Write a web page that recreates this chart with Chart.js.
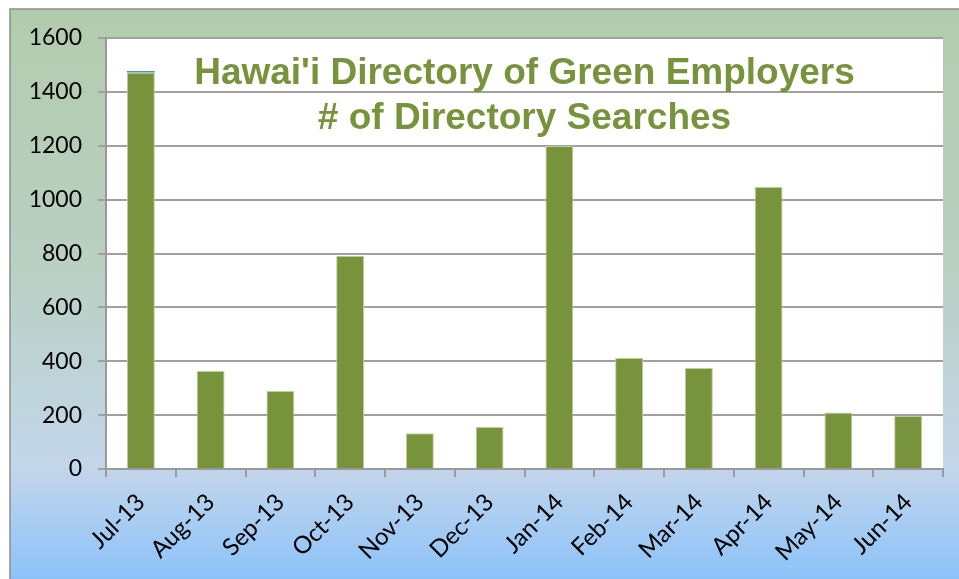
<!DOCTYPE html>
<html>
<head>
<meta charset="utf-8">
<script src="https://cdn.jsdelivr.net/npm/chart.js@4/dist/chart.umd.min.js"></script>
<style>
  html, body { margin: 0; padding: 0; background: #ffffff; }
  #wrap { width: 959px; height: 579px; position: relative; }
</style>
</head>
<body>
<div id="wrap"><canvas id="c" width="959" height="579"></canvas></div>
<script>
const categories = ["Jul-13","Aug-13","Sep-13","Oct-13","Nov-13","Dec-13","Jan-14","Feb-14","Mar-14","Apr-14","May-14","Jun-14"];
const searches = [1472, 364, 290, 792, 133, 156, 1199, 412, 375, 1047, 210, 198];
const topSliver = [5, 0, 0, 0, 0, 0, 0, 0, 0, 0, 0, 0];
const yTicks = [0, 200, 400, 600, 800, 1000, 1200, 1400, 1600];
const titleLines = ["Hawai'i Directory of Green Employers", "# of Directory Searches"];

const bgPlugin = {
  id: 'bgFrame',
  beforeDraw(chart) {
    const ctx = chart.ctx;
    const x0 = 10, y0 = 9, x1 = chart.width + 2, y1 = chart.height + 2;
    const g = ctx.createLinearGradient(0, y0, 0, y1);
    g.addColorStop(0, '#B3CBAC');
    g.addColorStop(0.45, '#B9D0C3');
    g.addColorStop(0.8, '#C3D6EA');
    g.addColorStop(1, '#8CC2FA');
    ctx.save();
    ctx.fillStyle = g;
    ctx.fillRect(x0, y0, x1 - x0, y1 - y0);
    ctx.strokeStyle = '#8E8E8E';
    ctx.lineWidth = 1.5;
    ctx.strokeRect(x0, y0, x1 - x0, y1 - y0);
    const a = chart.chartArea;
    ctx.fillStyle = '#ffffff';
    ctx.fillRect(a.left, a.top, a.right - a.left, a.bottom - a.top);
    ctx.restore();
  }
};

const titlePlugin = {
  id: 'inTitle',
  afterDatasetsDraw(chart) {
    const ctx = chart.ctx;
    const a = chart.chartArea;
    const cx = (a.left + a.right) / 2;
    ctx.save();
    ctx.fillStyle = '#77933C';
    ctx.font = 'bold 37px "Liberation Sans", Arial, sans-serif';
    ctx.textAlign = 'center';
    ctx.textBaseline = 'alphabetic';
    ctx.fillText(titleLines[0], cx, 84);
    ctx.fillText(titleLines[1], cx, 129);
    ctx.restore();
  }
};

new Chart(document.getElementById('c'), {
  type: 'bar',
  data: {
    labels: categories,
    datasets: [{
      label: '# of Directory Searches',
      data: searches,
      backgroundColor: '#77933C',
      borderColor: '#BCD09A',
      borderWidth: 1,
      borderSkipped: 'bottom',
      barPercentage: 0.4,
      categoryPercentage: 1.0,
      stack: 's'
    }, {
      label: 'other',
      data: topSliver,
      backgroundColor: '#2F86A6',
      borderWidth: 0,
      barPercentage: 0.4,
      categoryPercentage: 1.0,
      stack: 's'
    }]
  },
  options: {
    responsive: false,
    animation: false,
    layout: { padding: { left: 10, top: 38, right: 16, bottom: 0 } },
    plugins: {
      legend: { display: false },
      title: { display: false },
      tooltip: { enabled: false }
    },
    scales: {
      x: {
        stacked: true,
        offset: true,
        grid: { offset: true, drawOnChartArea: false, drawTicks: true, tickLength: 8, color: '#9A9A9A', lineWidth: 2 },
        border: { display: true, color: '#9A9A9A', width: 2 },
        ticks: {
          maxRotation: 45, minRotation: 45, autoSkip: false, padding: 11,
          color: '#000000',
          font: { family: 'Lato, "Open Sans", sans-serif', size: 24 }
        },
        afterFit(scale) { scale.height = 110; }
      },
      y: {
        stacked: true,
        min: 0, max: 1600,
        afterBuildTicks(scale) { scale.ticks = yTicks.map(v => ({ value: v })); },
        grid: { color: '#A0A0A0', lineWidth: 2, tickLength: 8 },
        border: { display: true, color: '#9A9A9A', width: 2 },
        ticks: {
          padding: 16,
          color: '#000000',
          callback: (v) => String(v),
          font: { family: 'Lato, "Open Sans", sans-serif', size: 23 }
        },
        afterFit(scale) { scale.width = 96; }
      }
    }
  },
  plugins: [bgPlugin, titlePlugin]
});
</script>
</body>
</html>
